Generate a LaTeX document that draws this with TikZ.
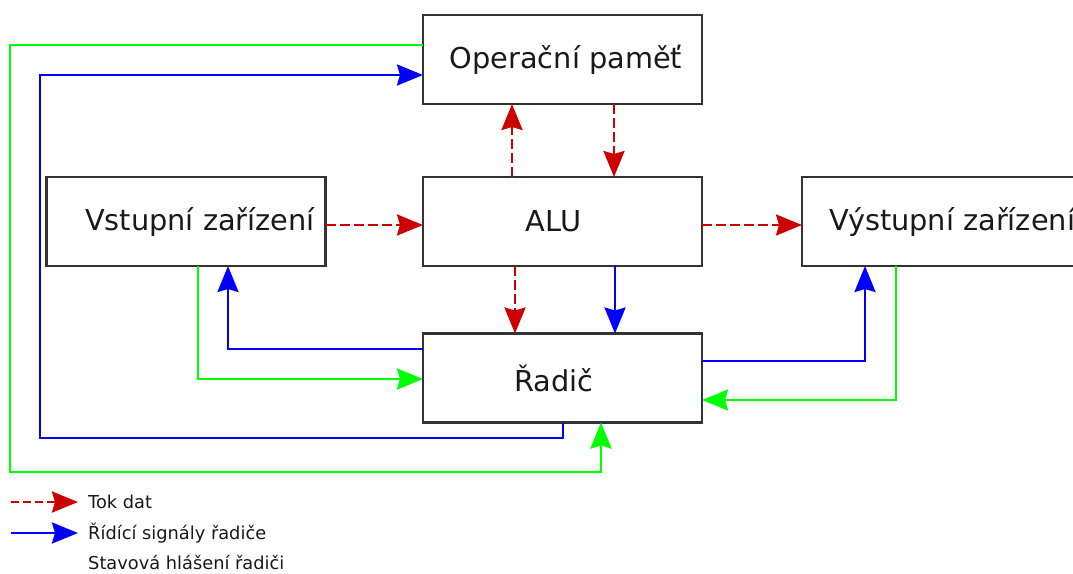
\documentclass[tikz,border=0pt]{standalone}
\usepackage{fontspec}
\setmainfont{DejaVu Sans}
\usetikzlibrary{arrows.meta}
\definecolor{dred}{RGB}{204,0,0}
\definecolor{cblue}{RGB}{0,0,255}
\definecolor{cgreen}{RGB}{0,255,0}
\begin{document}
\begin{tikzpicture}[x=1pt,y=-1pt,
  box/.style={draw=black!80,line width=2.4pt,minimum width=279pt,minimum height=89pt,inner sep=0pt,outer sep=0pt},
  boxtext/.style={font=\fontsize{28.8}{34}\selectfont,text=black!90,inner sep=0pt},
  tip/.style={-{Stealth[length=26pt,width=21pt,inset=3pt]}},
  data/.style={tip,draw=dred,line width=2.6pt,dash pattern=on 10pt off 4pt},
  ctrl/.style={tip,draw=cblue,line width=2.6pt},
  stat/.style={tip,draw=cgreen,line width=2.6pt},
  legtext/.style={font=\fontsize{17.8}{21}\selectfont,text=black!90,inner sep=0pt,anchor=base west}]
\useasboundingbox (0,0) rectangle (1073,573);
\clip (0,0) rectangle (1073,573);
\fill[white] (0,0) rectangle (1073,573);
% boxes
\node[box,label={[boxtext,xshift=3.5pt]center:Operační paměť}] (mem) at (562.5,59.5) {};
\node[box,label={[boxtext,xshift=14pt]center:Vstupní zařízení}] (vst) at (186,221.5) {};
\node[box,label={[boxtext,xshift=-9pt]center:ALU}] (alu) at (562.5,221.5) {};
\node[box,label={[boxtext,xshift=10.5pt]center:Výstupní zařízení}] (vys) at (941.5,221.5) {};
\node[box,label={[boxtext,xshift=-8.5pt]center:Řadič}] (rad) at (562.5,378) {};
% data flow
\draw[data] ([xshift=-50.5pt]alu.north) -- ([xshift=-50.5pt]mem.south);
\draw[data] ([xshift=51.5pt]mem.south) -- ([xshift=51.5pt]alu.north);
\draw[data] ([yshift=-3.5pt]vst.east) -- ([yshift=-3.5pt]alu.west);
\draw[data] ([yshift=-3.5pt]alu.east) -- ([yshift=-3.5pt]vys.west);
\draw[data] ([xshift=-47.5pt]alu.south) -- ([xshift=-47.5pt]rad.north);
% control signals
\draw[ctrl] ([xshift=52.5pt]alu.south) -- ([xshift=52.5pt]rad.north);
\draw[ctrl] ([yshift=29pt]rad.west) -| ([xshift=42pt]vst.south);
\draw[ctrl] ([yshift=17pt]rad.east) -| ([xshift=-76.5pt]vys.south);
\coordinate (bl) at (40,438);
\draw[ctrl] ([xshift=0.5pt]rad.south) |- (bl) |- ([yshift=-15.5pt]mem.west);
% status
\draw[stat] ([xshift=12pt]vst.south) |- ([yshift=-1pt]rad.west);
\draw[stat] ([xshift=-45.5pt]vys.south) |- ([yshift=-22pt]rad.east);
\coordinate (gl) at (10,472);
\draw[stat] ([yshift=14.5pt]mem.west) -| (gl) -| ([xshift=38.5pt]rad.south);
% legend
\coordinate (l1s) at (11,502); \coordinate (l1e) at (78,502);
\coordinate (l2s) at (11,533); \coordinate (l2e) at (78,533);
\draw[data,dash pattern=on 8pt off 4pt] (l1s) -- (l1e);
\draw[ctrl] (l2s) -- (l2e);
\node[legtext] (t1) at (88,508) {Tok dat};
\node[legtext] (t2) at (88,539.5) {Řídící signály řadiče};
\node[legtext] (t3) at (88,569.5) {Stavová hlášení řadiči};
\end{tikzpicture}
\end{document}
